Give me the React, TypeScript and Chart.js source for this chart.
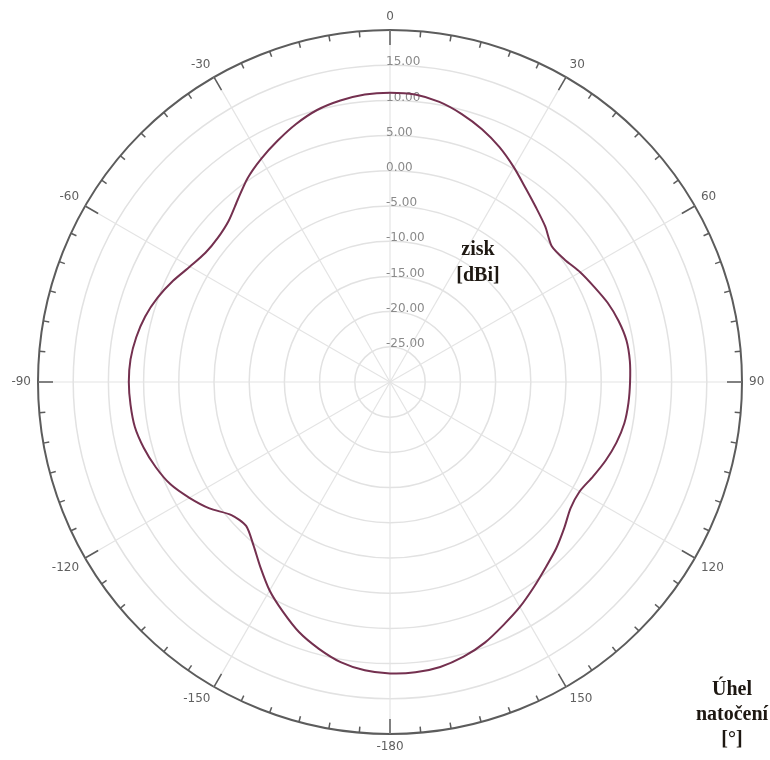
import React, { useEffect, useRef } from "react";
import { Chart, registerables } from "chart.js";

Chart.register(...registerables);

// Angle of rotation (deg, clockwise from top); 180..355 correspond to -180..-5
const angleDeg: number[] = [
  0, 5, 10, 15, 20, 25, 30, 35, 40, 45, 50, 55, 60, 65, 70, 75, 80, 85,
  90, 95, 100, 105, 110, 115, 120, 125, 130, 135, 140, 145, 150, 155, 160, 165, 170, 175,
  180, 185, 190, 195, 200, 205, 210, 215, 220, 225, 230, 235, 240, 245, 250, 255, 260, 265,
  270, 275, 280, 285, 290, 295, 300, 305, 310, 315, 320, 325, 330, 335, 340, 345, 350, 355,
];

// Gain [dBi] at each angle above
const gainDbi: number[] = [
  11.1, 11.0, 10.4, 9.4, 8.2, 6.8, 5.2, 3.6, 2.3, 1.2, 0.0, 0.3, 1.2, 2.0, 2.9, 3.6, 4.1, 4.2,
  4.1, 4.0, 3.8, 3.3, 2.6, 1.8, 1.1, 1.3, 2.3, 3.4, 4.4, 5.6, 6.9, 8.1, 9.4, 10.4, 11.1, 11.4,
  11.4, 11.1, 10.4, 9.2, 7.8, 6.0, 4.2, 2.1, 0.2, -1.1, -0.6, 1.3, 2.9, 4.4, 5.4, 6.2, 6.8, 7.0,
  7.1, 7.0, 6.6, 6.0, 5.1, 4.0, 2.8, 2.0, 1.9, 2.4, 3.7, 5.3, 6.6, 7.8, 9.0, 10.0, 10.6, 11.0,
];

// Radial axis (dBi)
const radialMin = -30;
const radialMax = 20;
const radialStep = 5;
const radialTickLabels: number[] = [-25, -20, -15, -10, -5, 0, 5, 10, 15];

// Angular axis labels (every 30 deg)
const angleMajorDeg: number[] = [0, 30, 60, 90, 120, 150, 180, 210, 240, 270, 300, 330];
const angleMajorText: string[] = ["0", "30", "60", "90", "120", "150", "-180", "-150", "-120", "-90", "-60", "-30"];

const gainTitle: string[] = ["zisk", "[dBi]"];
const angleTitle: string[] = ["Úhel", "natočení", "[°]"];

const polarDecor = {
  id: "polarDecor",
  beforeDatasetsDraw(chart: any) {
    const scale = chart.scales.r;
    const ctx = chart.ctx as CanvasRenderingContext2D;
    ctx.save();
    // radial tick labels along the 0° spoke
    ctx.font = "12px 'DejaVu Sans', sans-serif";
    ctx.fillStyle = "#8a8a8a";
    ctx.textAlign = "left";
    ctx.textBaseline = "middle";
    radialTickLabels.forEach((v) => {
      const d = scale.getDistanceFromCenterForValue(v);
      ctx.fillText(v.toFixed(2), scale.xCenter - 4, scale.yCenter - d - 3);
    });
    ctx.restore();
  },
  afterDraw(chart: any) {
    const scale = chart.scales.r;
    const ctx = chart.ctx as CanvasRenderingContext2D;
    const R = scale.drawingArea;
    ctx.save();
    // outer tick marks every 5 deg, longer every 30 deg
    ctx.strokeStyle = "#5c5c5c";
    ctx.lineWidth = 1.5;
    angleDeg.forEach((deg, i) => {
      const len = deg % 30 === 0 ? 15 : 6;
      const p1 = scale.getPointPosition(i, R);
      const p2 = scale.getPointPosition(i, R - len);
      ctx.beginPath();
      ctx.moveTo(p1.x, p1.y);
      ctx.lineTo(p2.x, p2.y);
      ctx.stroke();
    });
    // angle labels
    ctx.font = "12px 'DejaVu Sans', sans-serif";
    ctx.fillStyle = "#606060";
    angleMajorDeg.forEach((deg, k) => {
      const i = angleDeg.indexOf(deg);
      const p = scale.getPointPosition(i, R + 7);
      const s = Math.sin((deg * Math.PI) / 180);
      const c = Math.cos((deg * Math.PI) / 180);
      ctx.textAlign = Math.abs(s) < 0.05 ? "center" : s > 0 ? "left" : "right";
      ctx.textBaseline = Math.abs(c) < 0.05 ? "middle" : c > 0 ? "bottom" : "top";
      ctx.fillText(angleMajorText[k], p.x, p.y);
    });
    // axis titles
    ctx.font = "bold 20px 'Liberation Serif', 'Times New Roman', serif";
    ctx.fillStyle = "#1e1812";
    ctx.textAlign = "center";
    ctx.textBaseline = "middle";
    gainTitle.forEach((t, k) => ctx.fillText(t, scale.xCenter + 88, scale.yCenter - 132 + k * 26));
    angleTitle.forEach((t, k) => ctx.fillText(t, 732, 690 + k * 25));
    ctx.restore();
  },
};

export default function App() {
  const canvasRef = useRef<HTMLCanvasElement | null>(null);

  useEffect(() => {
    if (!canvasRef.current) return;
    const chart = new Chart(canvasRef.current, {
      type: "radar",
      data: {
        labels: angleDeg.map((a) => String(a)),
        datasets: [
          {
            label: "zisk",
            data: gainDbi,
            borderColor: "#74304f",
            borderWidth: 2,
            pointRadius: 0,
            pointHoverRadius: 0,
            fill: false,
            tension: 0.25,
          },
        ],
      },
      options: {
        responsive: false,
        animation: false,
        layout: { padding: { left: 38, right: 28, top: 30, bottom: 26 } },
        plugins: { legend: { display: false }, tooltip: { enabled: false } },
        scales: {
          r: {
            min: radialMin,
            max: radialMax,
            startAngle: 0,
            ticks: { display: false, stepSize: radialStep },
            pointLabels: { display: false },
            grid: {
              circular: true,
              color: (c: any) => (c.tick && c.tick.value === radialMax ? "#5c5c5c" : "#e2e2e2"),
              lineWidth: (c: any) => (c.tick && c.tick.value === radialMax ? 2 : 1.5),
            },
            angleLines: {
              display: true,
              color: (c: any) => (angleDeg[c.index] % 30 === 0 ? "#e4e4e4" : "rgba(0,0,0,0)"),
              lineWidth: 1.2,
            },
          },
        },
      },
      plugins: [polarDecor],
    });
    return () => chart.destroy();
  }, []);

  return (
    <div style={{ position: "fixed", left: 0, top: 0, width: 770, height: 760, background: "#ffffff" }}>
      <canvas ref={canvasRef} width={770} height={760} style={{ display: "block" }} />
    </div>
  );
}
